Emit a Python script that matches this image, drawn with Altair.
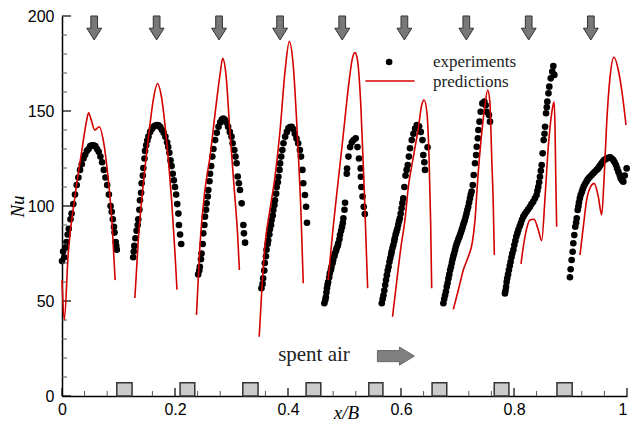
import altair as alt
import pandas as pd

# ---------------- experiments (black dots), one list pair per jet segment -------------
x1e = [0.000, 0.002, 0.004, 0.006, 0.008, 0.010, 0.012, 0.015, 0.017, 0.020, 0.023, 0.026, 0.029, 0.032, 0.035, 0.038, 0.041, 0.044, 0.047, 0.050, 0.053, 0.056, 0.059, 0.062, 0.065, 0.068, 0.071, 0.074, 0.077, 0.080, 0.083, 0.086, 0.088, 0.090, 0.092, 0.093, 0.095, 0.096, 0.097]
y1e = [71, 76, 73, 78, 81, 85, 88, 93, 96, 101, 106, 111, 115, 119, 122, 125, 127, 129, 130, 131.5, 132, 132, 131.5, 130, 128.5, 126, 123, 119, 115, 111, 106, 100, 97, 93, 89, 86, 81, 79, 77]
x2e = [0.126, 0.127, 0.128, 0.130, 0.132, 0.134, 0.135, 0.137, 0.138, 0.140, 0.141, 0.143, 0.144, 0.146, 0.147, 0.149, 0.151, 0.153, 0.156, 0.159, 0.162, 0.165, 0.168, 0.171, 0.174, 0.177, 0.180, 0.183, 0.186, 0.188, 0.190, 0.192, 0.194, 0.196, 0.198, 0.200, 0.202, 0.204, 0.206, 0.207, 0.209, 0.211]
y2e = [73, 76, 79, 83, 87, 90, 93, 98, 103, 107, 112, 116, 120, 125, 129, 132, 134.5, 136.5, 139, 140.5, 141.7, 142.3, 142.6, 142.4, 141.5, 140, 138.5, 136.5, 133.5, 131, 128, 124, 121, 117, 113.5, 110, 106, 101, 96, 90, 85, 80]
x3e = [0.241, 0.243, 0.244, 0.246, 0.247, 0.249, 0.250, 0.252, 0.253, 0.255, 0.256, 0.258, 0.259, 0.261, 0.262, 0.264, 0.266, 0.268, 0.271, 0.274, 0.277, 0.280, 0.283, 0.2855, 0.288, 0.291, 0.294, 0.297, 0.300, 0.302, 0.305, 0.307, 0.309, 0.311, 0.313, 0.315, 0.318, 0.321, 0.322, 0.324]
y3e = [64, 66, 68, 72, 75, 80, 85.6, 90, 94.4, 98, 101.4, 105, 108.4, 113, 117, 121, 126, 130, 134.7, 138.5, 141.7, 144, 145.5, 146, 145.5, 144, 141.7, 139, 136.5, 133, 129.5, 126, 122.5, 115.5, 112, 108.4, 101.4, 90, 85.6, 80.7]
x4e = [0.353, 0.355, 0.356, 0.358, 0.359, 0.361, 0.362, 0.364, 0.365, 0.367, 0.368, 0.370, 0.371, 0.373, 0.374, 0.376, 0.377, 0.379, 0.380, 0.382, 0.383, 0.385, 0.386, 0.388, 0.390, 0.392, 0.395, 0.398, 0.4006, 0.4035, 0.4065, 0.409, 0.412, 0.415, 0.418, 0.421, 0.423, 0.4255, 0.427, 0.43, 0.432, 0.4336]
y4e = [56.7, 59, 62, 66, 70, 73.5, 77, 80, 82, 85, 87.7, 90, 92.6, 95, 97.9, 100.5, 103, 106.5, 110, 112.5, 115.4, 119, 122.4, 126, 129.5, 133, 136.5, 139, 140.9, 141.5, 141.7, 140.5, 138, 135.5, 133, 129.5, 126, 119, 112, 105.8, 99.6, 91.2]
x5e = [0.4643, 0.466, 0.467, 0.468, 0.469, 0.470, 0.471, 0.473, 0.474, 0.476, 0.477, 0.479, 0.480, 0.482, 0.483, 0.485, 0.486, 0.488, 0.489, 0.491, 0.492, 0.494, 0.4956, 0.497, 0.498, 0.500, 0.501, 0.504, 0.5045, 0.507, 0.510, 0.513, 0.516, 0.5198, 0.523, 0.5257, 0.5287, 0.529, 0.530, 0.532, 0.534, 0.536]
y5e = [48.8, 50.5, 52, 54.5, 56.7, 58.5, 60, 62.5, 64.6, 66.5, 68, 70, 71.6, 73.5, 75, 76.5, 77.7, 79, 80.3, 82.5, 84.7, 87, 89, 91, 93.5, 98, 101.7, 117, 119.7, 126, 131, 133.5, 134.7, 135.6, 131, 125, 119.8, 115.4, 110, 105, 99.6, 95.8]
x6e = [0.566, 0.5675, 0.569, 0.5705, 0.572, 0.5735, 0.575, 0.5765, 0.578, 0.5795, 0.581, 0.5825, 0.5835, 0.585, 0.5865, 0.588, 0.589, 0.5905, 0.592, 0.5935, 0.595, 0.5965, 0.598, 0.5995, 0.601, 0.6025, 0.604, 0.606, 0.608, 0.610, 0.612, 0.614, 0.616, 0.619, 0.622, 0.625, 0.628, 0.632, 0.635, 0.638, 0.6395, 0.6413, 0.6425, 0.647]
y6e = [48.8, 51, 53, 55.5, 58.4, 61, 63.6, 66, 68, 70.5, 72.5, 74.5, 76, 78, 79.5, 81.5, 83, 85, 86.5, 88, 90, 92, 93.5, 96, 98.8, 101.5, 104, 110, 116, 119, 121.6, 126, 130.4, 134.7, 138, 140.7, 142.6, 142, 139, 134.7, 126.8, 123, 119, 130.9]
x7e = [0.675, 0.6765, 0.678, 0.6795, 0.681, 0.6825, 0.684, 0.6855, 0.687, 0.6885, 0.690, 0.6913, 0.6926, 0.694, 0.6956, 0.697, 0.6985, 0.700, 0.7015, 0.703, 0.7044, 0.706, 0.7074, 0.709, 0.710, 0.7115, 0.713, 0.7145, 0.716, 0.7175, 0.719, 0.7205, 0.722, 0.7235, 0.725, 0.727, 0.7287, 0.731, 0.733, 0.734, 0.736, 0.737, 0.739, 0.741, 0.744, 0.7475, 0.750, 0.7516, 0.7557, 0.7575]
y7e = [48.8, 51, 53, 55, 57.5, 59.5, 61.9, 64, 66.3, 68, 70, 72, 73.6, 75, 76.8, 78.5, 80, 81.2, 82.4, 83.5, 84.7, 86, 87.4, 88.7, 90, 91.3, 92.6, 94.3, 96.1, 98, 99.6, 101.8, 104, 106, 107.6, 111, 116.3, 122.5, 126.8, 131.2, 135.6, 140, 144.4, 149.6, 154, 154.9, 153, 149.6, 147.9, 144.4]
x8e = [0.784, 0.785, 0.786, 0.787, 0.788, 0.7895, 0.791, 0.7925, 0.794, 0.7955, 0.797, 0.799, 0.8006, 0.8024, 0.8041, 0.806, 0.8077, 0.810, 0.812, 0.814, 0.8165, 0.819, 0.822, 0.825, 0.8283, 0.831, 0.834, 0.837, 0.840, 0.8415, 0.843, 0.8445, 0.846, 0.8475, 0.849, 0.8507, 0.8525, 0.854, 0.855, 0.8567, 0.858, 0.859, 0.861, 0.8625, 0.865, 0.8678, 0.8696, 0.8714]
y8e = [54, 55.5, 57.5, 60, 62, 64, 66.3, 68.5, 70.7, 73, 75, 77, 79.5, 81.7, 83.9, 85.7, 87.4, 89.3, 90.9, 92.7, 94.4, 95.7, 97, 98.3, 99.6, 101, 102.3, 104, 105.8, 108, 110, 112.5, 115.4, 118.5, 121.6, 127.7, 134.7, 138, 141.7, 148.8, 152, 154.9, 159.3, 162.8, 167.2, 170.7, 173.7, 169]
x9e = [0.899, 0.9003, 0.902, 0.9038, 0.905, 0.9067, 0.9085, 0.910, 0.911, 0.9127, 0.914, 0.915, 0.9165, 0.918, 0.920, 0.9215, 0.9235, 0.9257, 0.928, 0.9298, 0.932, 0.9345, 0.9375, 0.9404, 0.943, 0.9463, 0.949, 0.951, 0.953, 0.9552, 0.957, 0.9593, 0.962, 0.964, 0.967, 0.970, 0.973, 0.9758, 0.978, 0.9805, 0.9825, 0.9847, 0.987, 0.9888, 0.991, 0.9935, 0.996, 0.9994]
y9e = [62.5, 66.7, 71.6, 75.9, 80.4, 84.7, 89.1, 91.3, 93.5, 97.9, 99.8, 101.8, 104, 105.8, 107.3, 108.8, 110.3, 111.6, 112.7, 113.7, 114.6, 115.4, 116.3, 117.2, 118, 119, 119.8, 120.7, 121.6, 122.5, 123.3, 124.2, 124.6, 125, 125.4, 125.6, 125, 124.2, 123, 121.6, 119.8, 118, 116.3, 114.6, 113.5, 112.8, 116, 119.8]

# ---------------- predictions (red lines) -------------
x1p = [0.0, 0.004, 0.011, 0.023, 0.035, 0.043, 0.047, 0.052, 0.058, 0.066, 0.073, 0.082, 0.089, 0.094]
y1p = [61, 40, 75, 105, 129, 144, 149, 145, 140, 141.7, 134.7, 113.7, 89, 61]
x2p = [0.129, 0.135, 0.144, 0.153, 0.162, 0.169, 0.176, 0.185, 0.194, 0.200, 0.2035]
y2p = [51.6, 82, 112, 136, 156.7, 164.5, 157.5, 134.7, 103, 75, 56]
x3p = [0.238, 0.244, 0.253, 0.262, 0.271, 0.280, 0.2844, 0.290, 0.297, 0.305, 0.311, 0.314]
y3p = [42.6, 78.6, 108.4, 126, 148.8, 169.8, 177.7, 169.8, 140, 108.4, 84, 66.3]
x4p = [0.349, 0.353, 0.359, 0.368, 0.377, 0.386, 0.395, 0.4023, 0.409, 0.417, 0.423, 0.427]
y4p = [31.2, 52.3, 78.6, 98, 115.4, 140, 171.6, 186.5, 175, 134.7, 96, 59.3]
x5p = [0.471, 0.48, 0.489, 0.498, 0.507, 0.514, 0.5186, 0.523, 0.529, 0.535, 0.539, 0.541]
y5p = [61, 89, 113.7, 138, 162.8, 177.7, 180.7, 176.8, 152.3, 108.4, 73.3, 56.7]
x6p = [0.585, 0.592, 0.600, 0.607, 0.613, 0.622, 0.631, 0.6366, 0.641, 0.646, 0.6496, 0.6525, 0.6543]
y6p = [41.7, 59.3, 78.6, 92.6, 110, 126, 141.7, 153, 155.8, 148.8, 126, 90.9, 56.7]
x7p = [0.6926, 0.7015, 0.7103, 0.719, 0.726, 0.731, 0.7357, 0.7416, 0.7475, 0.7535, 0.7575, 0.7605, 0.7634, 0.7652]
y7p = [45.6, 55.8, 66.3, 73.3, 80.4, 92.6, 113.7, 134.7, 150.5, 161, 154, 126, 99.6, 74.2]
x8p = [0.8124, 0.8165, 0.8225, 0.8283, 0.8354, 0.843, 0.849, 0.855, 0.8607, 0.8667, 0.8708, 0.8726, 0.8738, 0.8755]
y8p = [69.5, 78.6, 88.2, 92.6, 93, 87.4, 81.8, 104.9, 131.2, 148.8, 154.9, 141.7, 117.2, 89.1]
x9p = [0.9168, 0.9227, 0.9286, 0.9357, 0.942, 0.9492, 0.9552, 0.9593, 0.964, 0.970, 0.977, 0.9846, 0.9923, 0.9982]
y9p = [74.2, 89.1, 103.2, 110.2, 111.9, 104.9, 95.3, 113.7, 143.5, 168, 178.3, 171.6, 157.5, 142.6]

# ---------------- decorations -------------
jet_x = [0.057, 0.1675, 0.278, 0.386, 0.496, 0.606, 0.7156, 0.826, 0.936]   # impinging jets (down arrows)
jet_nu = 193.7
outlet_left = [0.097, 0.209, 0.320, 0.432, 0.543, 0.655, 0.765, 0.876]     # spent-air outlets
outlet_right = [0.124, 0.235, 0.347, 0.458, 0.568, 0.681, 0.791, 0.903]
outlet_height = 7
x_major = [0, 0.2, 0.4, 0.6, 0.8, 1]
x_minor = [round(i * 0.04, 2) for i in range(26) if i % 5 != 0]
y_major = [0, 50, 100, 150, 200]
y_minor = [v for v in range(0, 201, 10) if v % 50 != 0]

exp_sets = [(x1e, y1e), (x2e, y2e), (x3e, y3e), (x4e, y4e), (x5e, y5e), (x6e, y6e), (x7e, y7e), (x8e, y8e), (x9e, y9e)]
pred_sets = [(x1p, y1p), (x2p, y2p), (x3p, y3p), (x4p, y4p), (x5p, y5p), (x6p, y6p), (x7p, y7p), (x8p, y8p), (x9p, y9p)]

rows = []
for i, (xs_, ys_) in enumerate(exp_sets):
    assert len(xs_) == len(ys_), ("exp", i)
    rows += [{"seg": i, "x": a, "nu": b} for a, b in zip(xs_, ys_)]
exp_df = pd.DataFrame(rows)
rows = []
for i, (xs_, ys_) in enumerate(pred_sets):
    assert len(xs_) == len(ys_), ("pred", i)
    rows += [{"seg": i, "x": a, "nu": b} for a, b in zip(xs_, ys_)]
pred_df = pd.DataFrame(rows)

RED = "#d40000"
xs = alt.Scale(domain=[0, 1], nice=False, zero=False)
ys = alt.Scale(domain=[0, 200], nice=False, zero=False)

X_AXIS = alt.Axis(values=x_major, format="~g", ticks=False, tickSize=0, grid=False,
                  domainColor="black", domainWidth=1.5, labelFont="Liberation Sans",
                  labelFontSize=16, labelColor="black", labelPadding=5, labelFlush=False,
                  labelBound=False, labelOverlap=False,
                  labelAlign=alt.ExprRef(expr="datum.value >= 1 ? 'right' : 'center'"),
                  title="x/B", titleFont="Liberation Serif", titleFontStyle="italic",
                  titleFontWeight="normal", titleFontSize=19, titleColor="black",
                  titleX=284, titleY=22, titleAlign="center", titleBaseline="alphabetic")
Y_AXIS = alt.Axis(values=y_major, ticks=False, tickSize=0, grid=False,
                  domainColor="black", domainWidth=1.5, labelFont="Liberation Sans",
                  labelFontSize=16, labelColor="black", labelPadding=8, labelFlush=False,
                  labelOverlap=False,
                  title="Nu", titleFont="Liberation Serif", titleFontStyle="italic",
                  titleFontWeight="normal", titleFontSize=19, titleColor="black",
                  titleX=-45, titleY=190, titleAngle=270, titleAlign="center",
                  titleBaseline="middle")


def X(field):
    return alt.X(field, scale=xs, axis=X_AXIS)


def Y(field):
    return alt.Y(field, scale=ys, axis=Y_AXIS)


dots = alt.Chart(exp_df).mark_circle(color="black", size=44, opacity=1).encode(
    x=X("x:Q"), y=Y("nu:Q"))

# inward ticks
ytick_major = alt.Chart(pd.DataFrame({"v": y_major})).mark_rule(color="black", strokeWidth=1.2).encode(
    y=Y("v:Q"), x=alt.value(0), x2=alt.value(9))
ytick_minor = alt.Chart(pd.DataFrame({"v": y_minor})).mark_rule(color="#555555", strokeWidth=1).encode(
    y=Y("v:Q"), x=alt.value(0), x2=alt.value(5))
xtick_major = alt.Chart(pd.DataFrame({"v": x_major})).mark_rule(color="black", strokeWidth=1.2).encode(
    x=X("v:Q"), y=alt.value(380), y2=alt.value(372))
xtick_minor = alt.Chart(pd.DataFrame({"v": x_minor})).mark_rule(color="#555555", strokeWidth=1).encode(
    x=X("v:Q"), y=alt.value(380), y2=alt.value(375))

outlets = alt.Chart(pd.DataFrame({"l": outlet_left, "r": outlet_right, "b": [0] * 8, "t": [outlet_height] * 8})).mark_rect(
    fill="#cbcbcb", stroke="#333333", strokeWidth=1.5).encode(
    x=X("l:Q"), x2="r:Q", y=Y("b:Q"), y2="t:Q")

lines = alt.Chart(pred_df).mark_line(color=RED, strokeWidth=1.6, interpolate="monotone").encode(
    x=X("x:Q"), y=Y("nu:Q"), detail="seg:N", order="x:Q")

DOWN = "M-0.28,-1 L0.28,-1 L0.28,0.02 L0.62,0.02 L0,1 L-0.62,0.02 L-0.28,0.02 Z"
jets = alt.Chart(pd.DataFrame({"x": jet_x, "nu": [jet_nu] * len(jet_x)})).mark_point(
    shape=DOWN, size=576, filled=True, fill="#787878", stroke="#333333", strokeWidth=1, opacity=1).encode(
    x=X("x:Q"), y=Y("nu:Q"))

RIGHT = "M-1,-0.3 L0.19,-0.3 L0.19,-0.49 L1,0 L0.19,0.49 L0.19,0.3 L-1,0.3 Z"
flow_arrow = alt.Chart(pd.DataFrame({"x": [0.591], "nu": [21]})).mark_point(
    shape=RIGHT, size=1369, filled=True, fill="#808080", stroke="#6a6a6a", strokeWidth=1, opacity=1).encode(
    x=X("x:Q"), y=Y("nu:Q"))
flow_text = alt.Chart(pd.DataFrame({"x": [0.446], "nu": [21.5], "t": ["spent air"]})).mark_text(
    font="Liberation Serif", fontSize=21, color="#222222", align="center", baseline="middle").encode(
    x=X("x:Q"), y=Y("nu:Q"), text="t:N")

# legend
leg_dot = alt.Chart(pd.DataFrame({"x": [0.579], "nu": [175.8]})).mark_circle(color="black", size=44, opacity=1).encode(
    x=X("x:Q"), y=Y("nu:Q"))
leg_line = alt.Chart(pd.DataFrame({"x": [0.537], "x2": [0.624], "nu": [165.8]})).mark_rule(color=RED, strokeWidth=1.6).encode(
    x=X("x:Q"), x2="x2:Q", y=Y("nu:Q"))
leg_text = alt.Chart(pd.DataFrame({"x": [0.6566, 0.6566], "nu": [175.8, 165.3], "t": ["experiments", "predictions"]})).mark_text(
    font="Liberation Serif", fontSize=17, color="#222222", align="left", baseline="middle").encode(
    x=X("x:Q"), y=Y("nu:Q"), text="t:N")

chart = alt.layer(
    dots, ytick_minor, ytick_major, xtick_minor, xtick_major, outlets,
    lines, jets, flow_arrow, flow_text, leg_dot, leg_line, leg_text
).properties(
    width=565, height=380,
    autosize=alt.AutoSizeParams(type="none"),
    padding={"left": 62, "top": 16, "right": 3, "bottom": 29},
    background="white"
).configure_view(stroke=None)

chart.save("out.html", embed_options={"renderer": "svg", "actions": False})
